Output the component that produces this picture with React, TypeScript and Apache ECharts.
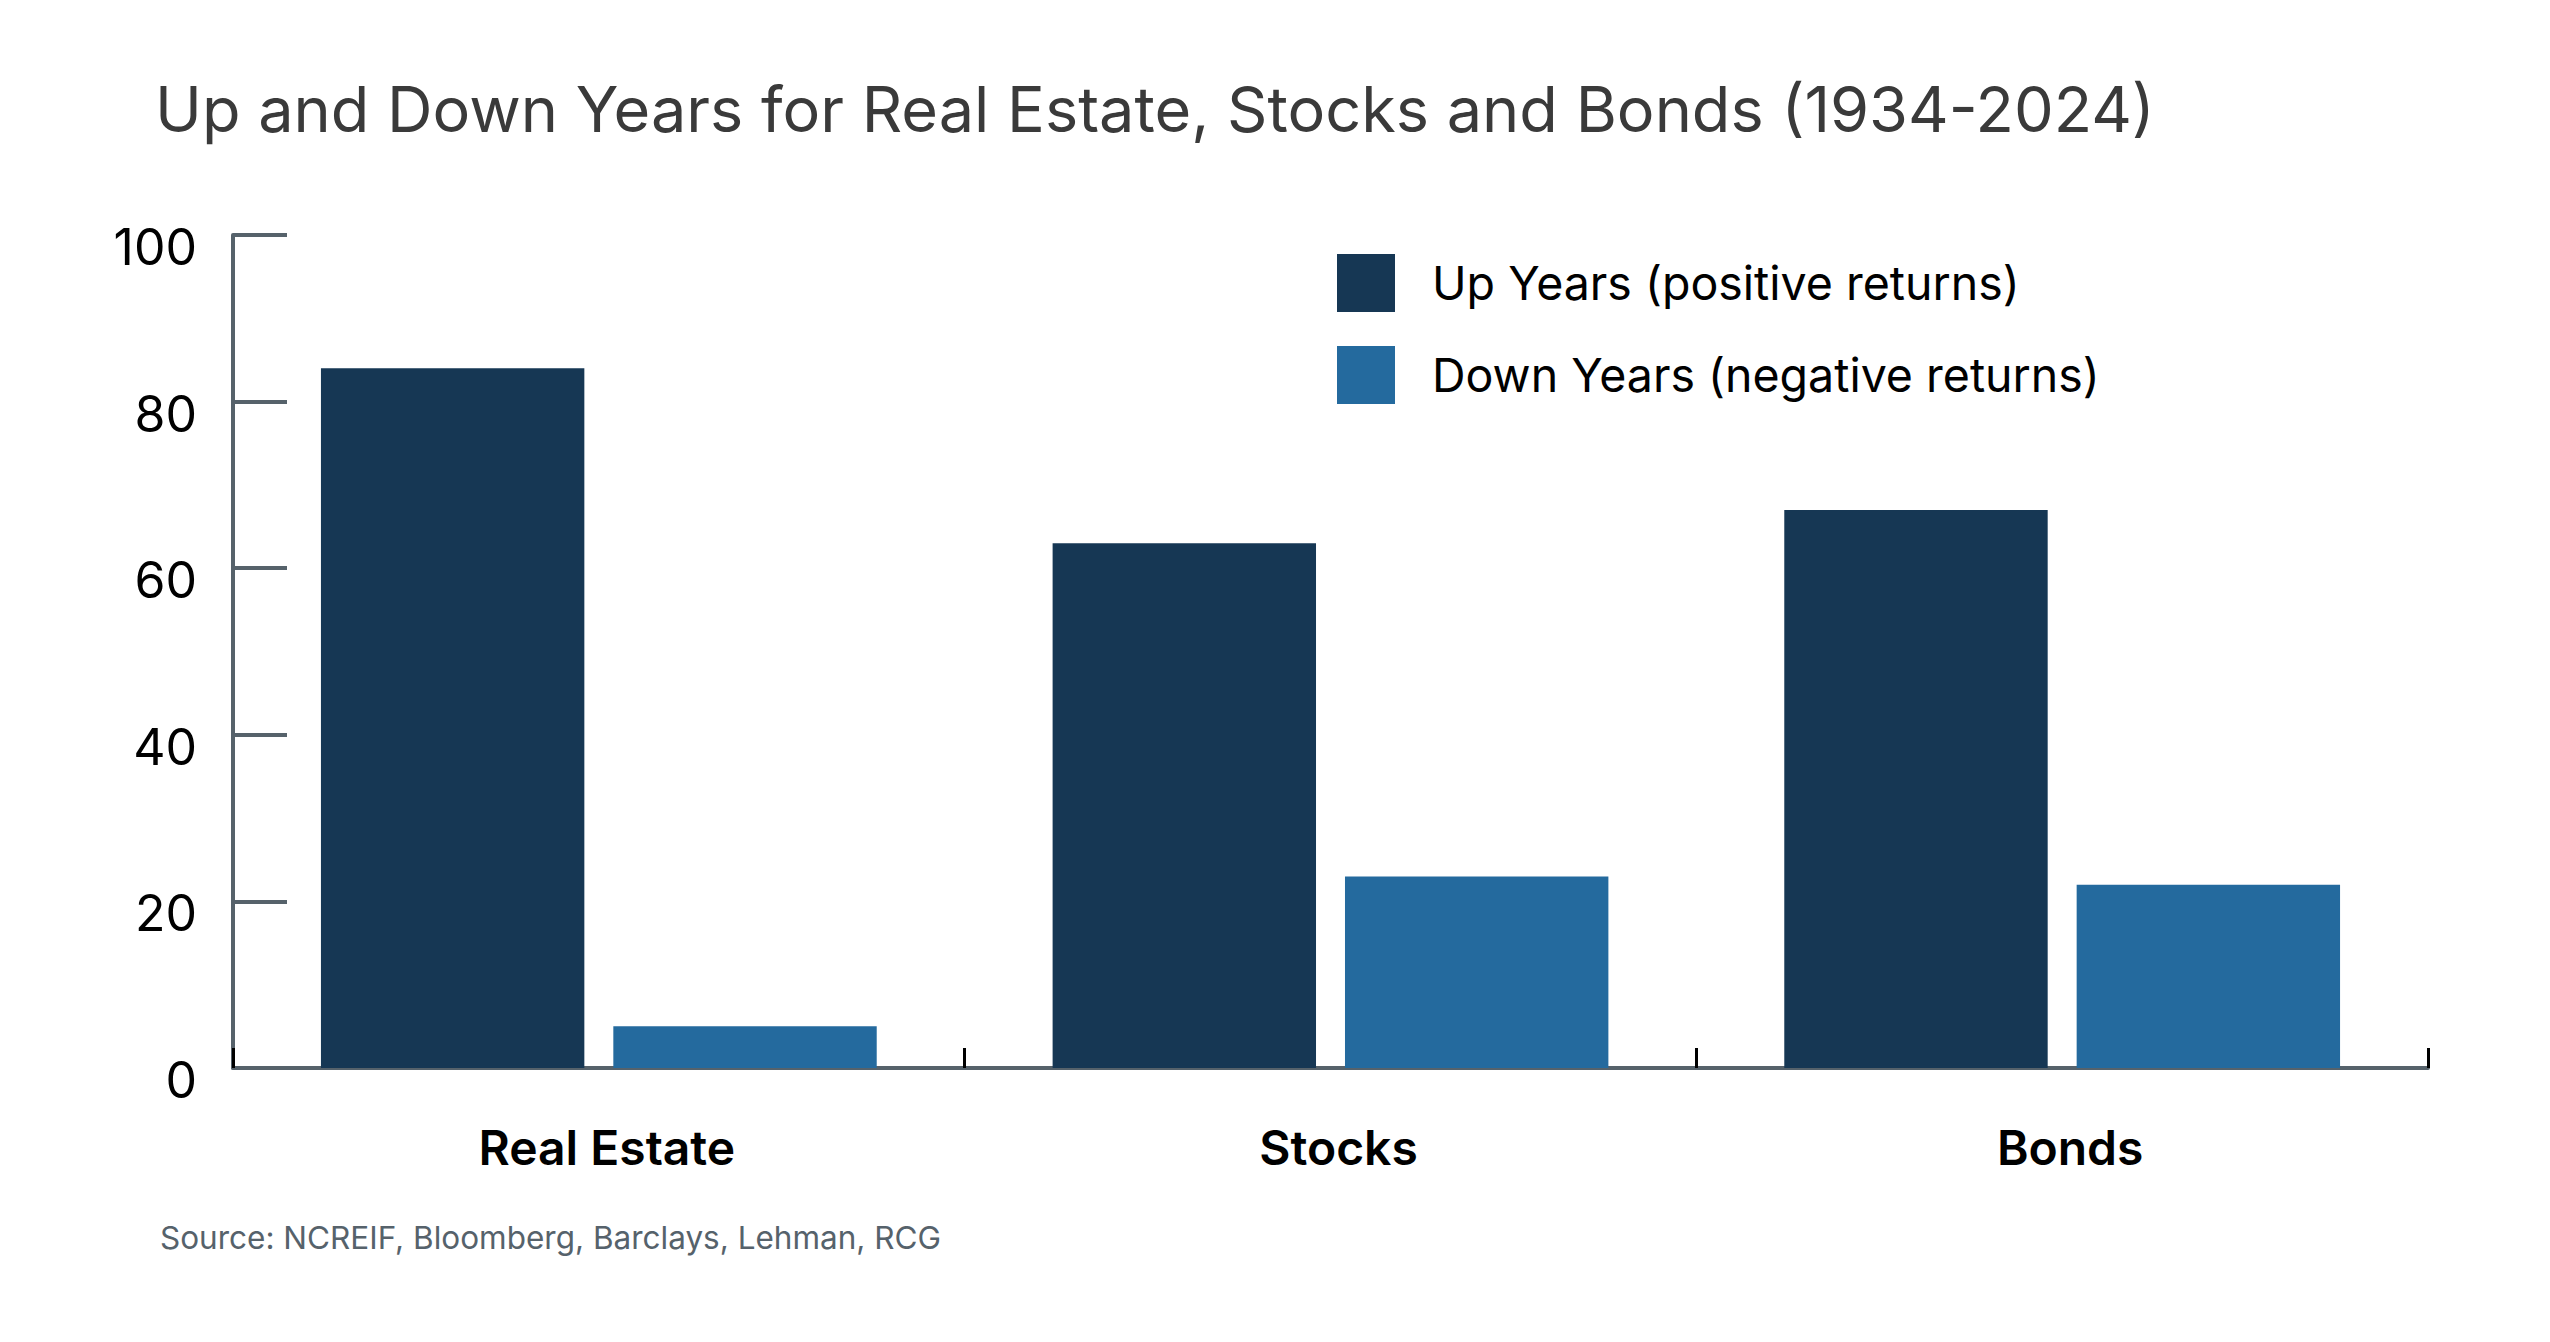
import React, { useEffect, useRef } from "react";
import * as echarts from "echarts";

const titleText = "Up and Down Years for Real Estate, Stocks and Bonds (1934-2024)";
const sourceText = "Source: NCREIF, Bloomberg, Barclays, Lehman, RCG";
const categories = ["Real Estate", "Stocks", "Bonds"];
const seriesNames = ["Up Years (positive returns)", "Down Years (negative returns)"];
const upYears = [84, 63, 67];
const downYears = [5, 23, 22];
const yTicks = { min: 0, max: 100, interval: 20 };

const FONT = "Inter, 'Noto Sans', sans-serif";

export default function App() {
  const ref = useRef<HTMLDivElement>(null);
  useEffect(() => {
    document.body.style.margin = "0";
    const chart = echarts.init(ref.current!, undefined, { renderer: "svg" });
    chart.setOption({
      animation: false,
      backgroundColor: "#ffffff",
      textStyle: { fontFamily: FONT },
      title: {
        text: titleText,
        left: 150,
        top: 72,
        textStyle: { fontSize: 63, fontWeight: 400, color: "#3a3a3a", fontFamily: FONT },
      },
      legend: {
        orient: "vertical",
        left: 1337,
        top: 254,
        padding: 0,
        itemWidth: 58,
        itemHeight: 58,
        itemGap: 34,
        icon: "rect",
        data: seriesNames,
        textStyle: { fontSize: 46.5, color: "#000", fontFamily: FONT, padding: [0, 0, 0, 32] },
      },
      grid: { left: 233, right: 122, top: 235, bottom: 274, containLabel: false },
      xAxis: {
        type: "category",
        data: categories,
        axisLine: { show: true, lineStyle: { color: "#56626b", width: 4 } },
        axisTick: { show: true, inside: true, length: 20, lineStyle: { color: "#000", width: 3 } },
        axisLabel: { fontSize: 48, fontWeight: 600, color: "#000", margin: 55, padding: [0, 0, 0, 16], fontFamily: FONT },
      },
      yAxis: {
        type: "value",
        min: yTicks.min,
        max: yTicks.max,
        interval: yTicks.interval,
        axisLine: { show: true, lineStyle: { color: "#56626b", width: 4 } },
        axisTick: { show: true, inside: true, length: 54, lineStyle: { color: "#56626b", width: 4 } },
        splitLine: { show: false },
        axisLabel: { fontSize: 50, color: "#000", margin: 36, verticalAlign: "top", lineHeight: 24, fontFamily: FONT },
      },
      series: [
        {
          name: seriesNames[0],
          type: "bar",
          data: upYears,
          barWidth: "36%",
          barGap: "11%",
          itemStyle: { color: "#163754" },
        },
        {
          name: seriesNames[1],
          type: "bar",
          data: downYears,
          barWidth: "36%",
          itemStyle: { color: "#246a9e" },
        },
      ],
      graphic: [
        {
          type: "text",
          left: 160,
          top: 1221,
          style: { text: sourceText, fontSize: 31.5, fill: "#56626b", fontFamily: FONT },
        },
      ],
    });
    return () => chart.dispose();
  }, []);
  return <div ref={ref} style={{ width: 2550, height: 1342 }} />;
}
